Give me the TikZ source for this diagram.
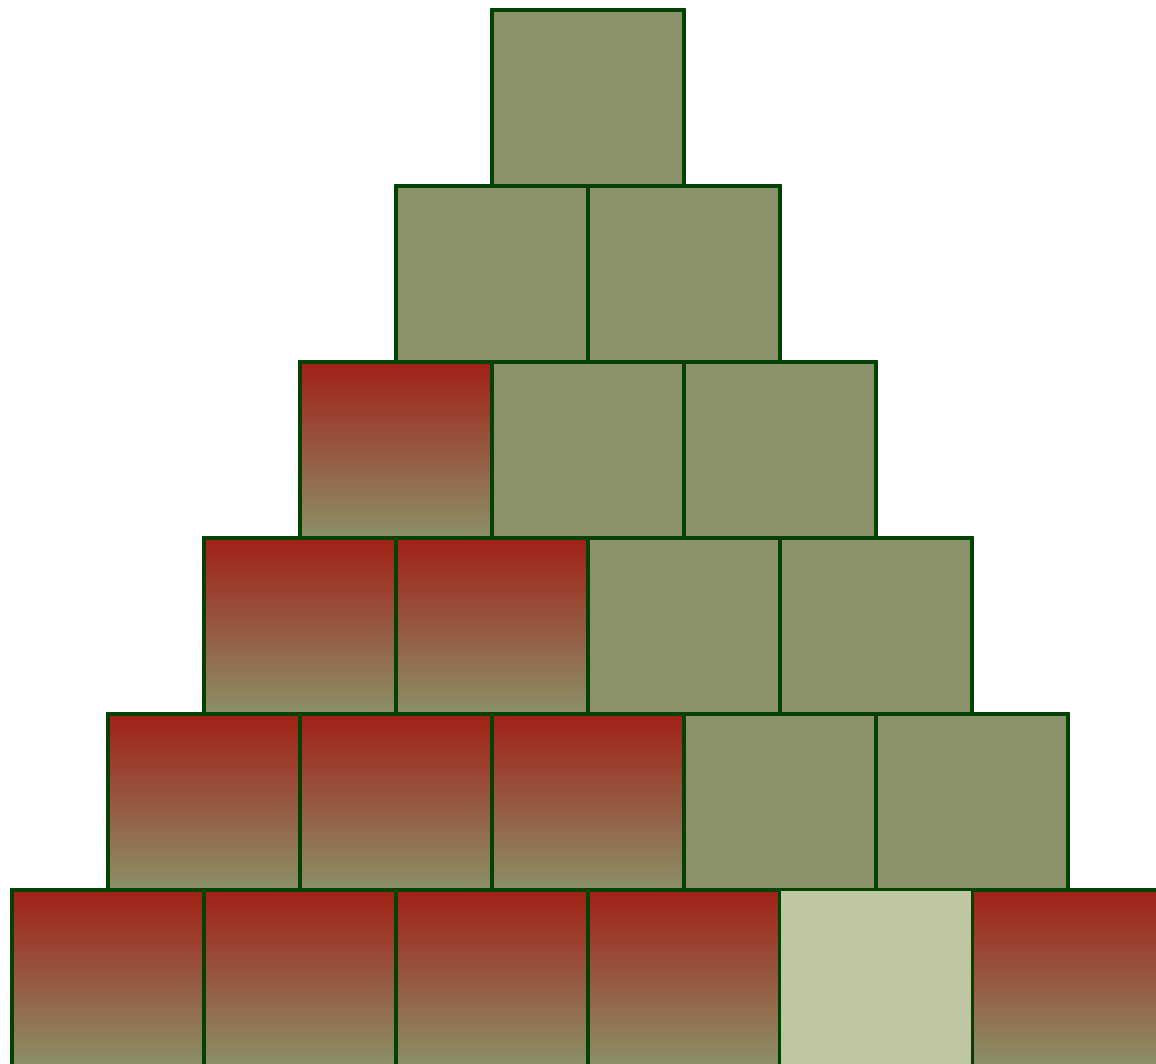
\documentclass[tikz,border=0pt]{standalone}
\definecolor{oliveBox}{RGB}{139,145,104}
\definecolor{redTop}{RGB}{161,32,22}
\definecolor{paleBox}{RGB}{190,198,162}
\definecolor{edgeGreen}{RGB}{5,64,5}
\begin{document}
\begin{tikzpicture}[x=0.01cm, y=-0.01cm,
    cell/.style = {draw=edgeGreen, line width=1.15pt, rectangle, inner sep=0pt,
                   minimum width=1.92cm, minimum height=1.76cm},
    plain/.style = {cell, fill=oliveBox},
    hot/.style = {cell, top color=redTop, bottom color=oliveBox},
    pale/.style = {cell, fill=paleBox, line width=0.6pt}]
        \def\numRows{6}
        \def\cellW{192}
        \def\cellH{176}

        \useasboundingbox (0,0) rectangle (1156,1064);
        \clip (0,0) rectangle (1156,1064);

        % Drawing the rows of the pyramid
        \foreach \r in {1,...,\numRows}{
            \foreach \c in {1,...,\r}{
                \pgfmathsetmacro{\xPos}{588 - \cellW*\r/2 + \cellW*(\c - 0.5)}
                \pgfmathsetmacro{\yPos}{10 + \cellH*(\r - 1) + \cellH/2}
                \pgfmathtruncatemacro{\numHot}{\r - 2}
                \ifnum\c>\numHot
                    \node[plain] (cell-\r-\c) at (\xPos, \yPos) {};
                \else
                    \node[hot] (cell-\r-\c) at (\xPos, \yPos) {};
                \fi
              }
          }

        % Bottom row: last cells redone
        \node[hot] (cell-6-6) at (1068, 978) {};
        \node[pale] (cell-6-5) at (876, 978) {};
      \end{tikzpicture}
\end{document}
